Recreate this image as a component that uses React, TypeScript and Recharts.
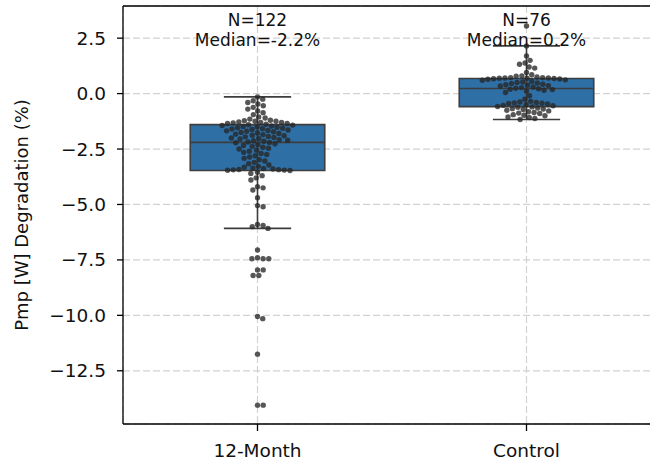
import {
  ComposedChart,
  Scatter,
  XAxis,
  YAxis,
  CartesianGrid,
  ReferenceArea,
  ReferenceLine,
  ReferenceDot,
} from "recharts";

const groups = ["12-Month", "Control"];

// Pmp degradation (%) per module, one list per group
const monthValues = [
  -0.15, -0.25, -0.32, -0.4, -0.47, -0.55, -0.62, -0.7, -0.78, -0.86, -0.95, -1.05, -1.1,
  -1.15, -1.2, -1.22, -1.25, -1.25, -1.28, -1.3, -1.3, -1.32, -1.35, -1.35, -1.38,
  -1.4, -1.42, -1.44, -1.46, -1.48, -1.5, -1.52, -1.54, -1.56, -1.58, -1.6, -1.62, -1.64,
  -1.66, -1.68, -1.7, -1.72, -1.75, -1.78, -1.8, -1.83, -1.85, -1.88, -1.9, -1.93, -1.95,
  -1.98, -2.0, -2.03, -2.05, -2.08, -2.1, -2.13, -2.15, -2.18, -2.2,
  -2.22, -2.26, -2.3, -2.34, -2.38, -2.42, -2.46, -2.5, -2.55, -2.6, -2.65, -2.7, -2.75,
  -2.8, -2.86, -2.92, -2.98, -3.04, -3.1, -3.16, -3.22, -3.28, -3.32, -3.36, -3.38, -3.4,
  -3.42, -3.43, -3.44, -3.45, -3.46, -3.47,
  -3.55, -3.6, -3.7, -3.8, -3.9, -4.2, -4.25, -4.35, -4.7, -5.05, -5.1, -5.9, -5.95, -6.0,
  -6.08,
  -7.05, -7.4, -7.45, -7.45, -7.45, -7.95, -7.95, -8.2, -8.2, -10.05, -10.15, -11.75,
  -14.05, -14.05,
];

const controlValues = [
  3.05, 2.15, 1.7, 1.5, 1.38, 1.32, 1.2, 1.15, 0.95, 0.85, 0.8, 0.78, 0.75, 0.72, 0.72,
  0.7, 0.7, 0.69, 0.69,
  0.68, 0.67, 0.66, 0.65, 0.62, 0.6, 0.55, 0.52, 0.5, 0.48, 0.45, 0.42, 0.4, 0.38, 0.36,
  0.34, 0.3, 0.27, 0.24,
  0.22, 0.2, 0.18, 0.15, 0.12, 0.05, -0.1, -0.25, -0.35, -0.38, -0.4, -0.42, -0.43, -0.45,
  -0.47, -0.5, -0.53, -0.55, -0.58,
  -0.6, -0.62, -0.65, -0.68, -0.7, -0.72, -0.75, -0.78, -0.82, -0.85, -0.88, -0.9, -0.95,
  -0.98, -1.0, -1.05, -1.08, -1.12, -1.17,
];

// box statistics per group: whisker low, Q1, median, Q3, whisker high
const whiskerLow = [-6.08, -1.17];
const q1 = [-3.47, -0.59];
const median = [-2.2, 0.23];
const q3 = [-1.4, 0.68];
const whiskerHigh = [-0.15, 2.15];
const counts = [monthValues.length, controlValues.length];
const medianLabels = ["-2.2", "0.2"];

const yTicks = [2.5, 0, -2.5, -5, -7.5, -10, -12.5];
const yDomain: [number, number] = [-14.9, 3.95];
const xDomain: [number, number] = [-0.5, 1.5];

const WIDTH = 670;
const HEIGHT = 460;
const MARGIN = { top: 6, right: 9, bottom: 0, left: 0 };
const Y_AXIS_WIDTH = 123;
const X_AXIS_HEIGHT = 36;
const BOX_HALF = 0.25;
const CAP_HALF = 0.125;
const DOT_R = 2.7;

const FONT = "DejaVu Sans";

// beeswarm: place points (largest first) as close to the centre line as possible
function swarmOffsets(values: number[]) {
  const plotH = HEIGHT - MARGIN.top - MARGIN.bottom - X_AXIS_HEIGHT;
  const plotW = WIDTH - MARGIN.left - MARGIN.right - Y_AXIS_WIDTH;
  const pyu = plotH / (yDomain[1] - yDomain[0]);
  const pxu = plotW / (xDomain[1] - xDomain[0]);
  const d = DOT_R * 2 + 0.3;
  const placed: { x: number; y: number }[] = [];
  const out: number[] = new Array(values.length).fill(0);
  const order = values.map((_, i) => i).sort((a, b) => values[b] - values[a]);
  for (const i of order) {
    const y = values[i] * pyu;
    const cands = [0];
    for (const p of placed) {
      const dy = Math.abs(p.y - y);
      if (dy < d) {
        const dx = Math.sqrt(d * d - dy * dy);
        cands.push(p.x + dx, p.x - dx);
      }
    }
    cands.sort((a, b) => Math.abs(a) - Math.abs(b));
    const x =
      cands.find((c) =>
        placed.every((p) => (p.x - c) ** 2 + (p.y - y) ** 2 >= d * d - 1e-6)
      ) ?? 0;
    placed.push({ x, y });
    out[i] = x / pxu;
  }
  return out;
}

const points = [monthValues, controlValues].flatMap((vals, g) => {
  const offs = swarmOffsets(vals);
  return vals.map((v, i) => ({ x: g + offs[i], y: v }));
});

const formatY = (v: number) => v.toFixed(1).replace("-", "\u2212");
const formatX = (v: number) => groups[Math.round(v)] ?? "";

const edge = "#3d3d3d";
const textStyle = { fontSize: 17, fontFamily: FONT, fill: "#111" };

function App() {
  return (
    <div
      style={{
        position: "absolute",
        left: 0,
        top: 0,
        width: 650,
        height: 460,
        overflow: "hidden",
        background: "#fff",
      }}
    >
      <ComposedChart width={WIDTH} height={HEIGHT} margin={MARGIN}>
        <CartesianGrid strokeDasharray="7 3" stroke="#d2d2d2" strokeWidth={1.2} />
        <XAxis
          type="number"
          dataKey="x"
          domain={xDomain}
          ticks={[0, 1]}
          allowDataOverflow
          tickFormatter={formatX}
          height={X_AXIS_HEIGHT}
          tickSize={7}
          tickMargin={13}
          stroke="#000"
          strokeWidth={1.3}
          tick={{ fill: "#111", fontSize: 18.5, fontFamily: FONT }}
        />
        <YAxis
          type="number"
          dataKey="y"
          domain={yDomain}
          ticks={yTicks}
          allowDataOverflow
          tickFormatter={formatY}
          width={Y_AXIS_WIDTH}
          tickSize={6}
          tickMargin={11}
          stroke="#000"
          strokeWidth={1.3}
          tick={{ fill: "#111", fontSize: 18.5, fontFamily: FONT }}
          label={{
            value: "Pmp [W] Degradation (%)",
            angle: -90,
            position: "insideLeft",
            offset: 22,
            style: { textAnchor: "middle", fontSize: 18, fontFamily: FONT, fill: "#111" },
          }}
        />
        {/* top spine */}
        <ReferenceLine y={yDomain[1]} stroke="#000" strokeWidth={1.6} ifOverflow="visible" />
        {groups.map((g, i) => (
          <ReferenceLine
            key={g + "-whisker"}
            segment={[
              { x: i, y: whiskerLow[i] },
              { x: i, y: whiskerHigh[i] },
            ]}
            stroke={edge}
            strokeWidth={1.6}
          />
        ))}
        {groups.map((g, i) => (
          <ReferenceArea
            key={g + "-box"}
            x1={i - BOX_HALF}
            x2={i + BOX_HALF}
            y1={q1[i]}
            y2={q3[i]}
            fill="#2e6fa6"
            fillOpacity={1}
            stroke={edge}
            strokeWidth={1.6}
          />
        ))}
        {groups.map((g, i) => (
          <ReferenceLine
            key={g + "-median"}
            segment={[
              { x: i - BOX_HALF, y: median[i] },
              { x: i + BOX_HALF, y: median[i] },
            ]}
            stroke={edge}
            strokeWidth={1.6}
          />
        ))}
        {groups.flatMap((g, i) =>
          [whiskerLow[i], whiskerHigh[i]].map((w, k) => (
            <ReferenceLine
              key={g + "-cap" + k}
              segment={[
                { x: i - CAP_HALF, y: w },
                { x: i + CAP_HALF, y: w },
              ]}
              stroke={edge}
              strokeWidth={1.6}
            />
          ))
        )}
        <Scatter
          data={points}
          isAnimationActive={false}
          shape={(p: any) => (
            <circle cx={p.cx} cy={p.cy} r={DOT_R} fill="#262626" fillOpacity={0.78} />
          )}
        />
        {groups.flatMap((g, i) => [
          <ReferenceDot
            key={g + "-n"}
            x={i}
            y={3.3}
            r={0}
            label={{ value: `N=${counts[i]}`, position: "center", style: textStyle }}
          />,
          <ReferenceDot
            key={g + "-med"}
            x={i}
            y={2.42}
            r={0}
            label={{ value: `Median=${medianLabels[i]}%`, position: "center", style: textStyle }}
          />,
        ])}
      </ComposedChart>
    </div>
  );
}

export default App;
